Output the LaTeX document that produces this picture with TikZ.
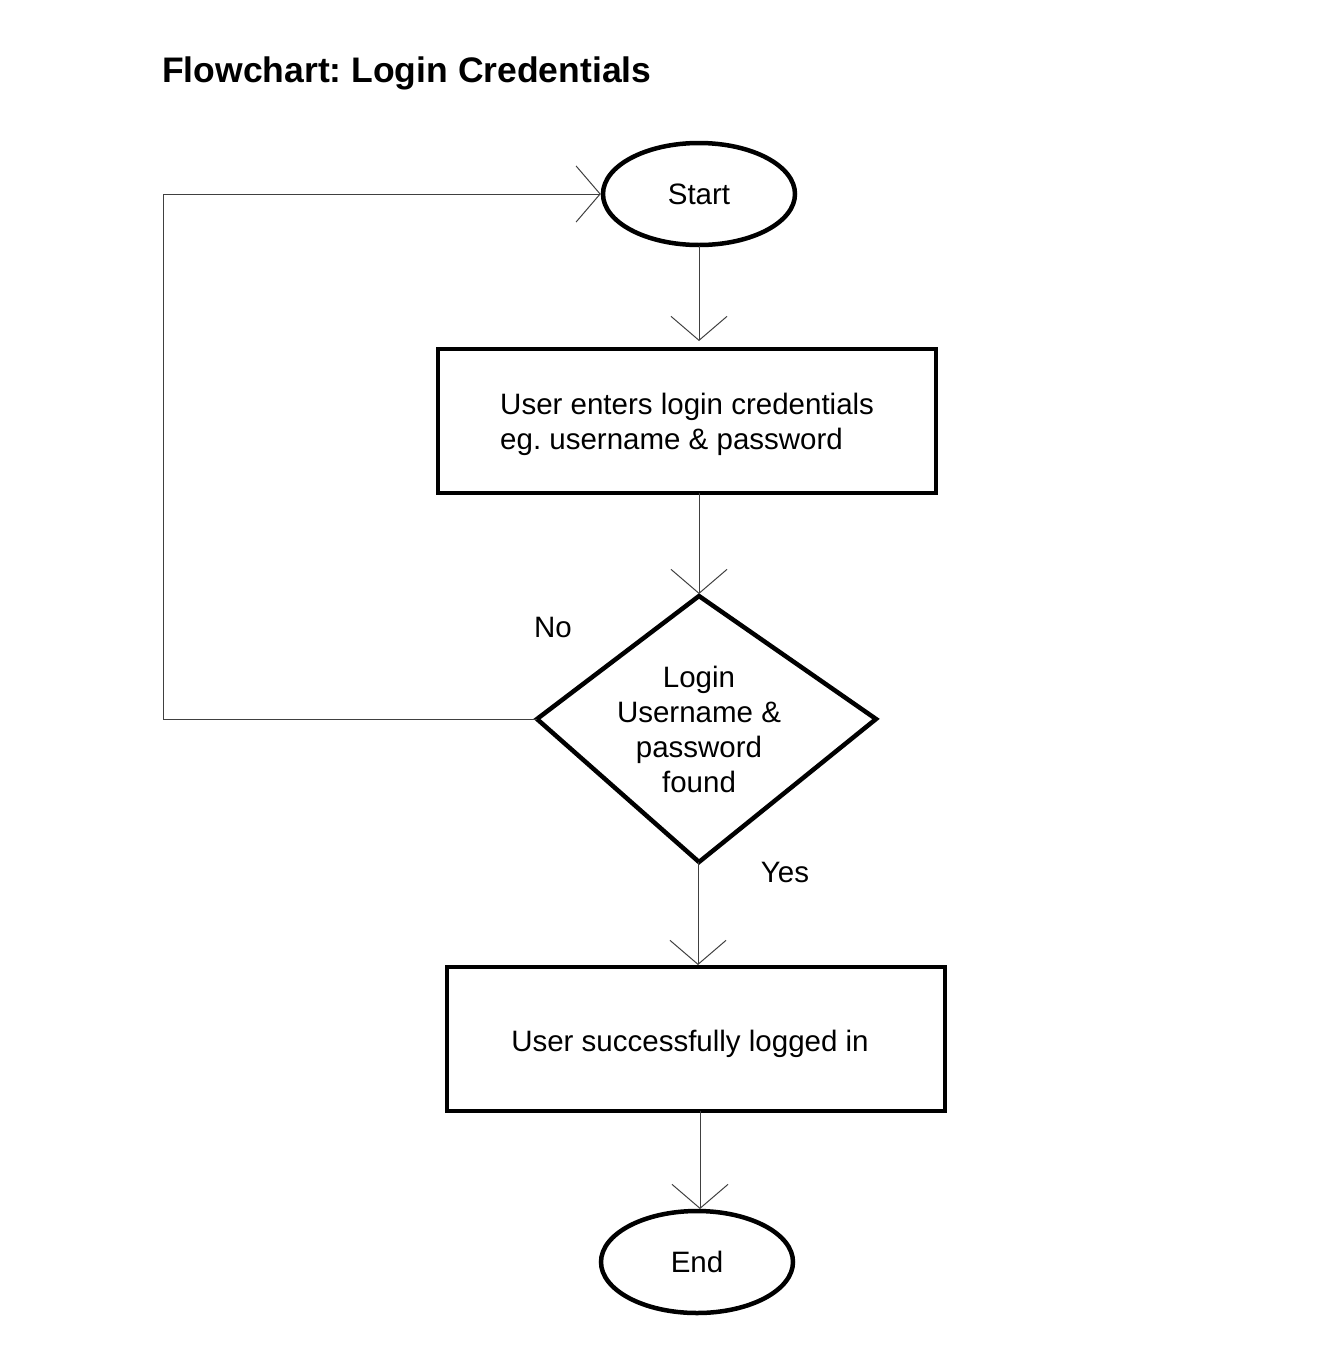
\documentclass[tikz,border=0pt]{standalone}
\usepackage{fontspec}
\setmainfont{Liberation Sans}
\usetikzlibrary{arrows.meta,shapes.geometric}
\frenchspacing
\begin{document}
\begin{tikzpicture}[x=1pt,y=-1pt,
  every node/.style={font=\fontsize{29.5}{35}\selectfont},
  term/.style={draw,ellipse,line width=4.5pt,minimum width=192pt,minimum height=102pt,inner sep=0pt},
  proc/.style={draw,rectangle,line width=4.5pt,minimum width=498pt,minimum height=144pt,inner sep=0pt},
  dec/.style={draw,line width=4.5pt},
  conn/.style={line width=1pt,draw=black!75,-{Straight Barb[length=24pt,width=56pt,line width=1pt]}},
  lbl/.style={inner sep=0pt}]
\useasboundingbox (0,0) rectangle (1344,1371);
\node[lbl,anchor=base west,font=\fontsize{35.5}{44}\selectfont\bfseries] (title) at (162,82) {Flowchart: Login Credentials};
\node[term] (start) at (699,194) {Start};
\node[proc] (enter) at (687,421) {};
\node[lbl,align=left,anchor=west] (entertext) at (500,424) {User enters login credentials\\eg. username \& password};
\draw[dec] (699,596) -- (876,719) -- (699,862) -- (537,719) -- cycle;
\coordinate (dtop) at (699,594);
\coordinate (dbot) at (698,862);
\coordinate (dleft) at (537,719);
\node[lbl,align=center] (dtext) at (699,729) {Login\\Username \&\\password\\found};
\node[proc] (ok) at (696,1039) {};
\node[lbl] (oktext) at (690,1044) {User successfully logged in};
\node[term] (end) at (697,1262) {End};
\node[lbl] (no) at (553,627) {No};
\node[lbl] (yes) at (785,872) {Yes};
\coordinate (c1) at (163,719);
\coordinate (c2) at (163,194);
\coordinate (e1) at (699,246);
\coordinate (e2) at (699,341);
\coordinate (e3) at (699,493);
\coordinate (e4) at (698,965);
\coordinate (e5) at (700,1111);
\coordinate (e6) at (700,1209);
\draw[conn] (e1) -- (e2);
\draw[conn] (e3) -- (dtop);
\draw[conn] (dbot) -- (e4);
\draw[conn] (e5) -- (e6);
\draw[conn] (dleft) -- (c1) -- (c2) -- (start.west);
\end{tikzpicture}
\end{document}
